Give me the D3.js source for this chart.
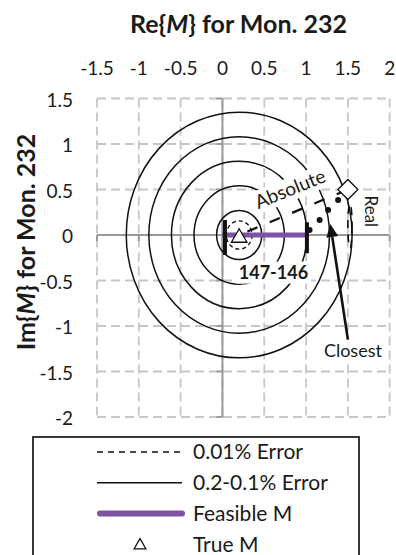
<!DOCTYPE html>
<html><head><meta charset="utf-8">
<script src="https://cdn.jsdelivr.net/npm/d3@7"></script>
<style>body{margin:0;background:#fff}svg{display:block}text{font-family:Lato,"Open Sans",sans-serif;fill:#1a1a1a}</style>
</head><body><svg id="c" width="396" height="555"></svg>
<script>
// ---- data ----
const xTicks = [-1.5, -1, -0.5, 0, 0.5, 1, 1.5, 2];
const yTicks = [1.5, 1, 0.5, 0, -0.5, -1, -1.5, -2];
const errorCenter = [0.2, 0];
const errorRadii = [0.27, 0.54, 0.81, 1.08, 1.35];      // 0.2-0.1% Error contours
const fineRadii = [0.155];                              // 0.01% Error contour
const feasibleM = [[0, 0], [1.02, 0]];
const trueM = [[0.2, -0.03]];
const absoluteEnd = [[1.5, 0.5]];
const realDots = [[1.383, 0.385], [1.263, 0.275], [1.162, 0.165], [1.042, 0.055]];
const boundBars = [[0.03, 0.165, -0.22], [1.01, 0.14, -0.2]];
const realEllipse = [[1.525, 0.1, 0.025, 0.24]];
const closestArrow = [[1.5, -1.15], [1.29, 0.12]];
const annotations = [
  {text: "Absolute", pos: [0.81, 0.505], rot: -22, bold: false, size: 19, bg: true},
  {text: "147-146", pos: [0.61, -0.41], rot: 0, bold: true, size: 18, bg: true},
  {text: "Real", pos: [1.78, 0.26], rot: 90, bold: false, size: 17, bg: false},
  {text: "Closest", pos: [1.56, -1.27], rot: 0, bold: false, size: 18, bg: true}
];
const legendLabels = ["0.01% Error", "0.2-0.1% Error", "Feasible M", "True M"];

// ---- scales ----
const svg = d3.select("#c");
const x = d3.scaleLinear().domain([-1.5, 2]).range([97, 389.7]);
const y = d3.scaleLinear().domain([-2, 1.5]).range([417, 98.5]);
const PURPLE = "#7d53a3";
const fmt = d => String(d);

// grid
const grid = svg.append("g").attr("stroke", "#c6c6c6").attr("stroke-width", 1.8)
  .attr("stroke-dasharray", "9 5").attr("fill", "none");
grid.selectAll(".gx").data(xTicks).join("line")
  .attr("x1", d => x(d)).attr("x2", d => x(d)).attr("y1", y(1.5)).attr("y2", y(-2));
grid.selectAll(".gy").data(yTicks).join("line")
  .attr("y1", d => y(d)).attr("y2", d => y(d)).attr("x1", x(-1.5)).attr("x2", x(2));

// axes at zero
const axG = svg.append("g").attr("stroke", "#9a9a9a").attr("stroke-width", 2);
axG.append("line").attr("x1", x(0)).attr("x2", x(0)).attr("y1", y(1.5)).attr("y2", y(-2));
axG.append("line").attr("y1", y(0)).attr("y2", y(0)).attr("x1", x(-1.5)).attr("x2", x(2));
axG.selectAll(".ty").data(yTicks).join("line")
  .attr("x1", x(0) - 6).attr("x2", x(0)).attr("y1", d => y(d)).attr("y2", d => y(d));
axG.selectAll(".tx").data(xTicks).join("line")
  .attr("y1", y(0)).attr("y2", y(0) + 6).attr("x1", d => x(d)).attr("x2", d => x(d));

// tick labels
svg.append("g").selectAll("text").data(xTicks).join("text")
  .attr("x", d => x(d)).attr("y", 75).attr("text-anchor", "middle")
  .attr("font-size", 19).text(fmt);
svg.append("g").selectAll("text").data(yTicks).join("text")
  .attr("x", 73).attr("y", d => y(d) + 1.5).attr("dy", "0.35em").attr("text-anchor", "end")
  .attr("font-size", 19).text(fmt);

// axis titles
const tX = svg.append("text").attr("x", 238.5).attr("y", 33).attr("text-anchor", "middle")
  .attr("font-size", 25).attr("font-weight", "bold");
tX.append("tspan").text("Re{");
tX.append("tspan").attr("font-style", "italic").text("M");
tX.append("tspan").text("} for Mon. 232");
const tY = svg.append("text").attr("transform", "translate(35,242) rotate(-90)")
  .attr("text-anchor", "middle").attr("font-size", 25).attr("font-weight", "bold");
tY.append("tspan").text("Im{");
tY.append("tspan").attr("font-style", "italic").text("M");
tY.append("tspan").text("} for Mon. 232");

// error contours
const ell = (cx, cy, r) => ({cx: x(cx), cy: y(cy), rx: x(cx + r) - x(cx), ry: y(cy) - y(cy + r)});
svg.append("g").selectAll("ellipse").data(errorRadii).join("ellipse")
  .each(function(r) { const e = ell(errorCenter[0], errorCenter[1], r);
    d3.select(this).attr("cx", e.cx).attr("cy", e.cy).attr("rx", e.rx).attr("ry", e.ry); })
  .attr("fill", "none").attr("stroke", "#111").attr("stroke-width", 1.5);
svg.append("g").selectAll("ellipse").data(fineRadii).join("ellipse")
  .each(function(r) { const e = ell(errorCenter[0], errorCenter[1], r);
    d3.select(this).attr("cx", e.cx).attr("cy", e.cy).attr("rx", e.rx).attr("ry", e.ry); })
  .attr("fill", "none").attr("stroke", "#111").attr("stroke-width", 1.4).attr("stroke-dasharray", "4 3");
svg.append("g").selectAll("ellipse").data(realEllipse).join("ellipse")
  .attr("cx", d => x(d[0])).attr("cy", d => y(d[1]))
  .attr("rx", d => x(d[0] + d[2]) - x(d[0])).attr("ry", d => y(d[1]) - y(d[1] + d[3]))
  .attr("fill", "none").attr("stroke", "#111").attr("stroke-width", 1.6).attr("stroke-dasharray", "8 6");

// feasible M
svg.append("path").datum(feasibleM).attr("d", d3.line().x(d => x(d[0])).y(d => y(d[1])))
  .attr("stroke", PURPLE).attr("stroke-width", 5).attr("fill", "none");

// bound bars
svg.append("g").selectAll("line").data(boundBars).join("line")
  .attr("x1", d => x(d[0])).attr("x2", d => x(d[0])).attr("y1", d => y(d[1])).attr("y2", d => y(d[2]))
  .attr("stroke", "#111").attr("stroke-width", 4);

// absolute direction (dashed)
svg.append("path").datum([errorCenter, absoluteEnd[0]])
  .attr("d", d3.line().x(d => x(d[0])).y(d => y(d[1])))
  .attr("stroke", "#111").attr("stroke-width", 2.2).attr("fill", "none")
  .attr("stroke-dasharray", "11 13.2").attr("stroke-dashoffset", 15.3);

// real dots
svg.append("g").selectAll("circle").data(realDots).join("circle")
  .attr("cx", d => x(d[0])).attr("cy", d => y(d[1])).attr("r", 3).attr("fill", "#111");

// diamond
svg.append("g").selectAll("path").data(absoluteEnd).join("path")
  .attr("transform", d => `translate(${x(d[0])},${y(d[1])}) rotate(45)`)
  .attr("d", d3.symbol(d3.symbolSquare, 200)())
  .attr("fill", "#fff").attr("stroke", "#111").attr("stroke-width", 1.3);

// true M triangle
svg.append("g").selectAll("path").data(trueM).join("path")
  .attr("transform", d => `translate(${x(d[0])},${y(d[1])})`)
  .attr("d", d3.symbol(d3.symbolTriangle, 105)())
  .attr("fill", "#fff").attr("stroke", "#111").attr("stroke-width", 1.3);

// annotations
annotations.forEach(a => {
  const g = svg.append("g").attr("transform", `translate(${x(a.pos[0])},${y(a.pos[1])}) rotate(${a.rot})`);
  const rect = g.append("rect").attr("fill", "#fff");
  const t = g.append("text").attr("text-anchor", "middle").attr("dy", "0.35em")
    .attr("font-size", a.size).attr("font-weight", a.bold ? "bold" : "normal").text(a.text);
  if (a.bg) {
    const b = t.node().getBBox();
    rect.attr("x", b.x - 3).attr("y", b.y + 1).attr("width", b.width + 6).attr("height", b.height);
  } else rect.remove();
});

// closest arrow
const [a0, a1] = closestArrow.map(d => [x(d[0]), y(d[1])]);
const ang = Math.atan2(a1[1] - a0[1], a1[0] - a0[0]);
const hl = 13, hw = 6;
const base = [a1[0] - hl * Math.cos(ang), a1[1] - hl * Math.sin(ang)];
svg.append("line").attr("x1", a0[0]).attr("y1", a0[1]).attr("x2", base[0]).attr("y2", base[1])
  .attr("stroke", "#111").attr("stroke-width", 2.6);
svg.append("path").attr("d", `M${a1[0]},${a1[1]}L${base[0] + hw * Math.sin(ang)},${base[1] - hw * Math.cos(ang)}L${base[0] - hw * Math.sin(ang)},${base[1] + hw * Math.cos(ang)}Z`)
  .attr("fill", "#111");

// legend
const lg = svg.append("g");
lg.append("rect").attr("x", 33).attr("y", 437).attr("width", 326).attr("height", 140)
  .attr("fill", "#fff").attr("stroke", "#222").attr("stroke-width", 1.8);
const rowY = i => 452 + i * 30.8;
lg.selectAll("text").data(legendLabels).join("text")
  .attr("x", 193).attr("y", (d, i) => rowY(i)).attr("dy", "0.35em").attr("font-size", 21).text(d => d);
lg.append("line").attr("x1", 97).attr("x2", 182).attr("y1", rowY(0)).attr("y2", rowY(0))
  .attr("stroke", "#111").attr("stroke-width", 1.3).attr("stroke-dasharray", "6 5");
lg.append("line").attr("x1", 97).attr("x2", 182).attr("y1", rowY(1)).attr("y2", rowY(1))
  .attr("stroke", "#111").attr("stroke-width", 1.5);
lg.append("line").attr("x1", 100).attr("x2", 182).attr("y1", rowY(2)).attr("y2", rowY(2))
  .attr("stroke", PURPLE).attr("stroke-width", 6).attr("stroke-linecap", "round");
lg.append("path").attr("transform", `translate(140,${rowY(3) + 1})`)
  .attr("d", d3.symbol(d3.symbolTriangle, 60)())
  .attr("fill", "#fff").attr("stroke", "#111").attr("stroke-width", 1.3);
</script></body></html>
